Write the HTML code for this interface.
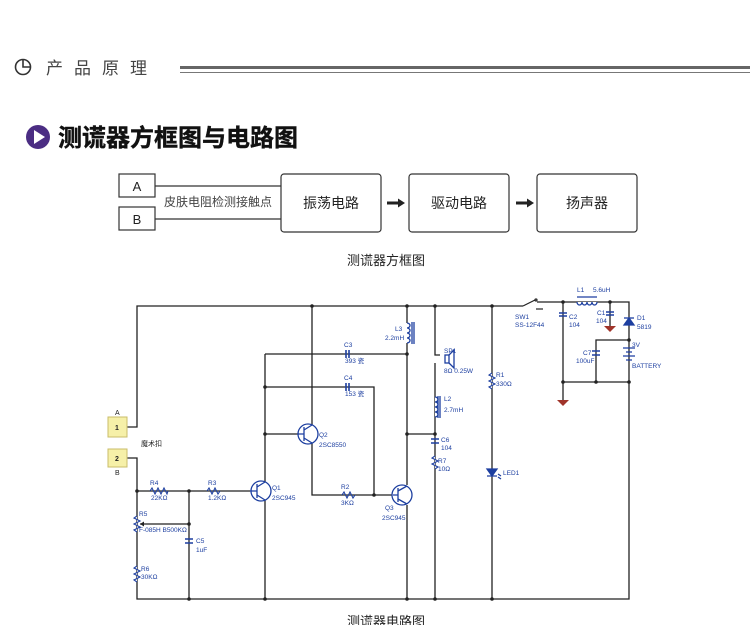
<!DOCTYPE html>
<html><head><meta charset="utf-8"><style>
body{margin:0;width:750px;height:625px;background:#fff;overflow:hidden;font-family:"Liberation Sans","Noto Sans CJK SC",sans-serif}
</style></head><body>
<svg width="750" height="625" viewBox="0 0 750 625" xmlns="http://www.w3.org/2000/svg" font-family="Liberation Sans, Noto Sans CJK SC, sans-serif">
<!-- header -->
<g fill="none" stroke="#333" stroke-width="1.6">
<circle cx="23" cy="67" r="7.5"/><path d="M23 59.5V67H30.5"/>
</g>
<text x="46" y="74" font-size="17" fill="#444" letter-spacing="11">产品原理</text>
<rect x="180" y="66" width="570" height="3" fill="#666"/>
<rect x="180" y="72" width="570" height="1" fill="#777"/>
<!-- title -->
<circle cx="38" cy="137" r="12" fill="#4b2d83"/>
<path d="M34 130 L45 137 L34 144Z" fill="#fff"/>
<text x="58" y="146" font-size="24" font-weight="bold" fill="#111" stroke="#111" stroke-width="0.4">测谎器方框图与电路图</text>
<!-- block diagram -->
<g fill="none" stroke="#333" stroke-width="1.2">
<rect x="119" y="174" width="36" height="23"/>
<rect x="119" y="207" width="36" height="23"/>
<line x1="155" y1="186" x2="281" y2="186"/>
<line x1="155" y1="219" x2="281" y2="219"/>
<rect x="281" y="174" width="100" height="58" rx="3"/>
<rect x="409" y="174" width="100" height="58" rx="3"/>
<rect x="537" y="174" width="100" height="58" rx="3"/>
</g>
<g fill="#222">
<path d="M387 201.5h11v-3l7 4.5-7 4.5v-3h-11z"/>
<path d="M516 201.5h11v-3l7 4.5-7 4.5v-3h-11z"/>
</g>
<g font-size="13" fill="#222" text-anchor="middle">
<text x="137" y="191">A</text><text x="137" y="224">B</text>
<text x="331" y="208" font-size="14">振荡电路</text>
<text x="459" y="208" font-size="14">驱动电路</text>
<text x="587" y="208" font-size="14">扬声器</text>
<text x="218" y="206" font-size="12" fill="#444">皮肤电阻检测接触点</text>
<text x="386" y="265" font-size="13">测谎器方框图</text>
<text x="386" y="626" font-size="13">测谎器电路图</text>
</g>
<!-- circuit wires -->
<g fill="none" stroke="#222" stroke-width="1.3">
<path d="M127 427H137V306H523"/>
<path d="M537 302H629V599H137V458H127"/>
<path d="M137 491H250"/>
<path d="M189 491V599"/>
<path d="M265 354V599"/>
<path d="M265 354H407"/>
<path d="M265 387H374V495"/>
<path d="M265 434H300"/>
<path d="M312 306V428M312 441V495H393"/>
<path d="M407 306V323M407 343V485M407 505V599"/>
<path d="M407 434H435"/>
<path d="M435 306V355H440M435 363V599"/>
<path d="M492 306V599"/>
<path d="M563 302V400"/>
<path d="M610 302V326"/>
<path d="M629 340H596V382"/>
<path d="M563 382H629"/>
<path d="M140 524H189"/>
</g>
<g fill="#222">
<circle cx="312" cy="306" r="1.8"/><circle cx="407" cy="306" r="1.8"/><circle cx="435" cy="306" r="1.8"/><circle cx="492" cy="306" r="1.8"/>
<circle cx="189" cy="491" r="1.8"/><circle cx="137" cy="491" r="1.8"/><circle cx="265" cy="387" r="1.8"/><circle cx="265" cy="434" r="1.8"/>
<circle cx="407" cy="354" r="1.8"/><circle cx="374" cy="495" r="1.8"/><circle cx="407" cy="434" r="1.8"/><circle cx="435" cy="434" r="1.8"/>
<circle cx="189" cy="524" r="1.8"/><circle cx="189" cy="599" r="1.8"/><circle cx="265" cy="599" r="1.8"/><circle cx="407" cy="599" r="1.8"/><circle cx="435" cy="599" r="1.8"/><circle cx="492" cy="599" r="1.8"/>
<circle cx="563" cy="302" r="1.8"/><circle cx="610" cy="302" r="1.8"/><circle cx="629" cy="340" r="1.8"/><circle cx="563" cy="382" r="1.8"/><circle cx="596" cy="382" r="1.8"/><circle cx="629" cy="382" r="1.8"/>
</g>
<!-- connectors -->
<rect x="108" y="417" width="19" height="20" fill="#f6f0a8" stroke="#c9bd6a"/>
<rect x="108" y="449" width="19" height="18" fill="#f6f0a8" stroke="#c9bd6a"/>
<g font-size="7" fill="#222">
<text x="115" y="430" font-weight="bold">1</text><text x="115" y="461" font-weight="bold">2</text>
<text x="115" y="415">A</text><text x="115" y="475">B</text>
<text x="141" y="446">魔术扣</text>
</g>
<!-- components blue -->
<g fill="none" stroke="#1d3fa0" stroke-width="1.3">
<path d="M150 491l2-3 3 6 3-6 3 6 3-6 3 6 1-3" stroke-width="1.1"/>
<path d="M207 491l2-3 3 6 3-6 3 6 2-3" stroke-width="1.1"/>
<path d="M342 495l2-3 3 6 3-6 3 6 2-3" stroke-width="1.1"/>
<path d="M137 516l-3 2 6 3-6 3 6 3-6 3 3 2" fill="#fff" stroke-width="1.1"/>
<path d="M137 566l-3 2 6 3-6 3 6 3-6 3 3 2" fill="#fff" stroke-width="1.1"/>
<path d="M435 456l-3 2 6 3-6 3 6 3-3 2" fill="#fff" stroke-width="1.1"/>
<path d="M492 373l-3 2 6 3-6 3 6 3-6 3 3 2" fill="#fff" stroke-width="1.1"/>
<circle cx="261" cy="491" r="10" fill="#fff"/><path d="M257 484v14M250 491h7M257 487l8-5M257 495l8 5"/>
<circle cx="308" cy="434" r="10" fill="#fff"/><path d="M304 427v14M298 434h6M304 430l8-5M304 438l8 5"/>
<circle cx="402" cy="495" r="10" fill="#fff"/><path d="M398 488v14M393 495h5M398 491l9-5M398 499l9 5"/>
<path d="M346 350v8M349 350v8" stroke-width="1.6"/>
<path d="M346 383v8M349 383v8" stroke-width="1.6"/>
<path d="M185 539h8M185 543h8" stroke-width="1.6"/>
<path d="M431 439h8M431 443h8" stroke-width="1.6"/>
<path d="M559 313h8M559 316h8" stroke-width="1.6"/>
<path d="M606 312h8M606 315h8" stroke-width="1.6"/>
<path d="M592 351h8M592 355h8" stroke-width="1.6"/>
<path d="M407 323a3 2.5 0 0 1 0 5a3 2.5 0 0 1 0 5a3 2.5 0 0 1 0 5a3 2.5 0 0 1 0 5" fill="#fff"/><path d="M412 322v22M414 322v22"/>
<path d="M435 397a3 2.5 0 0 1 0 5a3 2.5 0 0 1 0 5a3 2.5 0 0 1 0 5a3 2.5 0 0 1 0 5" fill="#fff"/><path d="M438 396v22M440 396v22"/>
<path d="M577 302a2.5 3 0 0 0 5 0a2.5 3 0 0 0 5 0a2.5 3 0 0 0 5 0a2.5 3 0 0 0 5 0" fill="#fff"/><path d="M577 297h20"/>
<rect x="445" y="355" width="4" height="8" fill="#fff"/><path d="M449 355l5-5v18l-5-5"/>
<path d="M487 469h10l-5 7z" fill="#1d3fa0"/><path d="M487 476h10M498 474l3 2M498 477l3 2"/>
<path d="M624 325h10l-5-7z" fill="#1d3fa0"/><path d="M624 318h10"/>
<path d="M623 348h12M626 352h6M623 356h12M626 360h6"/>
</g>
<path d="M140 524l4-2.5v5z" fill="#222"/>
<g stroke="#222" stroke-width="1.2" fill="none"><path d="M523 306l12-6"/><circle cx="536" cy="300" r="1"/><path d="M536 309h7"/></g>
<g fill="#a0342a"><path d="M557 400h12l-6 6z"/><path d="M604 326h12l-6 6z"/></g>
<g font-size="6.5" fill="#1d3fa0">
<text x="150" y="485">R4</text><text x="151" y="500">22KΩ</text>
<text x="208" y="485">R3</text><text x="208" y="500">1.2KΩ</text>
<text x="272" y="490">Q1</text><text x="272" y="500">2SC945</text>
<text x="319" y="437">Q2</text><text x="319" y="447">2SC8550</text>
<text x="341" y="489">R2</text><text x="341" y="505">3KΩ</text>
<text x="385" y="510">Q3</text><text x="382" y="520">2SC945</text>
<text x="139" y="516">R5</text><text x="139" y="532">F-085H  B500KΩ</text>
<text x="196" y="543">C5</text><text x="196" y="552">1uF</text>
<text x="141" y="571">R6</text><text x="141" y="579">30KΩ</text>
<text x="344" y="347">C3</text><text x="345" y="363">393 瓷</text>
<text x="344" y="380">C4</text><text x="345" y="396">153 瓷</text>
<text x="395" y="331">L3</text><text x="385" y="340">2.2mH</text>
<text x="444" y="353">SP1</text><text x="444" y="373">8Ω 0.25W</text>
<text x="444" y="401">L2</text><text x="444" y="412">2.7mH</text>
<text x="441" y="442">C6</text><text x="441" y="450">104</text>
<text x="438" y="463">R7</text><text x="438" y="471">10Ω</text>
<text x="496" y="377">R1</text><text x="496" y="386">330Ω</text>
<text x="503" y="475">LED1</text>
<text x="515" y="319">SW1</text><text x="515" y="327">SS-12F44</text>
<text x="577" y="292">L1</text><text x="593" y="292">5.6uH</text>
<text x="569" y="319">C2</text><text x="569" y="327">104</text>
<text x="597" y="315">C1</text><text x="596" y="323">104</text>
<text x="637" y="320">D1</text><text x="637" y="329">5819</text>
<text x="632" y="347">3V</text><text x="632" y="368">BATTERY</text>
<text x="583" y="355">C7</text><text x="576" y="363">100uF</text>
</g>
</svg>
</body></html>
